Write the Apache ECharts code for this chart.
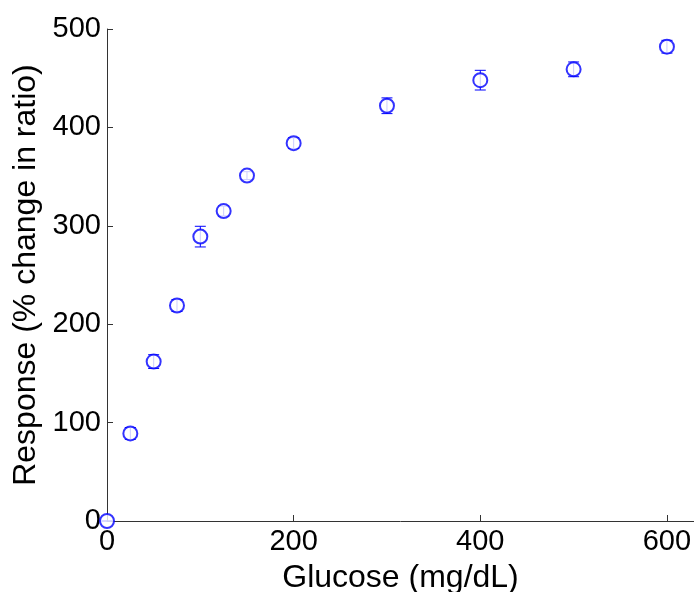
<!DOCTYPE html>
<html>
<head>
<meta charset="utf-8">
<script src="https://cdn.jsdelivr.net/npm/echarts@6/dist/echarts.min.js"></script>
<style>
html,body{margin:0;padding:0;background:#fff;}
#chart{width:694px;height:592px;}
</style>
</head>
<body>
<div id="chart"></div>
<script>
const glucose = [0, 25, 50, 75, 100, 125, 150, 200, 300, 400, 500, 600];
const response = [0, 89, 162, 219, 289, 315, 351, 384, 422, 448, 459, 482];
const errors = [0, 6, 7, 6, 10.5, 5, 4, 5.5, 8, 10, 7.5, 6.5];
const xTicks = [0, 200, 400, 600];
const yTicks = [0, 100, 200, 300, 400, 500];

const pts = glucose.map((g, i) => [g, response[i]]);
const errData = glucose.map((g, i) => [g, response[i], errors[i]]);

const FONT = 'Liberation Sans, Arial, sans-serif';
const chart = echarts.init(document.getElementById('chart'), null, {renderer: 'canvas'});
chart.setOption({
  animation: false,
  backgroundColor: '#fff',
  grid: {left: 107, right: 0, top: 29, bottom: 71, containLabel: false, outerBoundsMode: 'none'},
  xAxis: {
    type: 'value', min: 0, max: 629, interval: 200,
    name: 'Glucose (mg/dL)', nameLocation: 'middle', nameGap: 41,
    nameTextStyle: {fontFamily: FONT, fontSize: 32, color: '#000'},
    axisLine: {show: true, onZero: false, lineStyle: {color: '#333', width: 1}},
    axisTick: {show: true, inside: true, length: 6, lineStyle: {color: '#333'}},
    axisLabel: {fontFamily: FONT, fontSize: 29, color: '#000', margin: 6,
      formatter: v => xTicks.includes(v) ? String(v) : ''},
    splitLine: {show: false}
  },
  yAxis: {
    type: 'value', min: 0, max: 500, interval: 100,
    name: 'Response (% change in ratio)', nameLocation: 'middle', nameGap: 57, nameRotate: 90,
    nameTextStyle: {fontFamily: FONT, fontSize: 32, color: '#000'},
    axisLine: {show: true, onZero: false, lineStyle: {color: '#333', width: 1}},
    axisTick: {show: true, inside: true, length: 6, lineStyle: {color: '#333'}},
    axisLabel: {fontFamily: FONT, fontSize: 29, color: '#000', margin: 6,
      formatter: v => yTicks.includes(v) ? String(v) : ''},
    splitLine: {show: false}
  },
  series: [
    {
      type: 'custom',
      clip: false,
      data: errData,
      renderItem: function (params, api) {
        const x = api.value(0), y = api.value(1), e = api.value(2);
        const top = api.coord([x, y + e]);
        const bot = api.coord([x, y - e]);
        const hw = 5.5;
        const style = {stroke: '#0000ff', lineWidth: 1};
        return {
          type: 'group',
          children: [
            {type: 'line', shape: {x1: top[0], y1: top[1], x2: bot[0], y2: bot[1]}, style},
            {type: 'line', shape: {x1: top[0] - hw, y1: top[1], x2: top[0] + hw, y2: top[1]}, style},
            {type: 'line', shape: {x1: bot[0] - hw, y1: bot[1], x2: bot[0] + hw, y2: bot[1]}, style}
          ]
        };
      }
    },
    {
      type: 'scatter',
      clip: false,
      data: pts,
      symbol: 'emptyCircle',
      symbolSize: 14,
      itemStyle: {color: '#0000ff', borderColor: '#0000ff', borderWidth: 1}
    }
  ]
});
</script>
</body>
</html>
